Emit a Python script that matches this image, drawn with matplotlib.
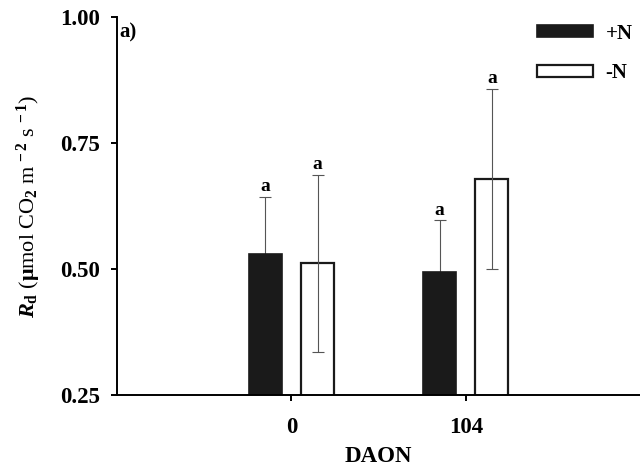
import matplotlib
matplotlib.use("Agg")
import matplotlib.pyplot as plt
import numpy as np

plt.rcParams['font.family'] = ['Liberation Serif', 'DejaVu Serif']
plt.rcParams['font.weight'] = 'bold'
plt.rcParams['mathtext.fontset'] = 'custom'
plt.rcParams['mathtext.rm'] = 'Liberation Serif:bold'
plt.rcParams['mathtext.it'] = 'Liberation Serif:italic:bold'
plt.rcParams['mathtext.bf'] = 'Liberation Serif:bold'

# dark respiration by sampling day, with and without nitrogen
days = ["0", "104"]
rd_plus = [0.530, 0.493]
err_plus = [0.113, 0.104]
rd_minus = [0.511, 0.679]
err_minus = [0.176, 0.179]
letters_plus = ["a", "a"]
letters_minus = ["a", "a"]

fig = plt.figure(figsize=(6.4, 4.74), dpi=100)
ax = fig.add_axes([0.183, 0.167, 0.817, 0.797])

x = np.arange(len(days))
off = 0.15
w = 0.19

ax.bar(x - off, rd_plus, w, color='#1a1a1a', edgecolor='#1a1a1a',
       linewidth=1.2, label='+N', zorder=2)
ax.bar(x + off, rd_minus, w, color='white', edgecolor='#1a1a1a',
       linewidth=1.6, label='-N', zorder=2)

# +N whiskers sit behind the dark bars so only the upper half shows
ax.errorbar(x - off, rd_plus, yerr=err_plus, fmt='none', ecolor='#555555',
            elinewidth=0.8, capsize=4, capthick=0.8, zorder=1)
ax.errorbar(x + off, rd_minus, yerr=err_minus, fmt='none', ecolor='#555555',
            elinewidth=0.8, capsize=4, capthick=0.8, zorder=3)

for xi, v, e, t in zip(x - off, rd_plus, err_plus, letters_plus):
    ax.text(xi, v + e + 0.003, t, ha='center', va='bottom', fontsize=14,
            fontweight='bold')
for xi, v, e, t in zip(x + off, rd_minus, err_minus, letters_minus):
    ax.text(xi, v + e + 0.003, t, ha='center', va='bottom', fontsize=14,
            fontweight='bold')

ax.set_ylim(0.25, 1.0)
ax.set_xlim(-1.0, 2.0)
ax.set_yticks([0.25, 0.50, 0.75, 1.00])
ax.set_yticklabels(["0.25", "0.50", "0.75", "1.00"])
ax.set_xticks(x)
ax.set_xticklabels(days)

for s in ['top', 'right']:
    ax.spines[s].set_visible(False)
for s in ['left', 'bottom']:
    ax.spines[s].set_linewidth(1.4)
ax.tick_params(axis='y', direction='out', length=4.5, width=1.4, labelsize=16.5, pad=8)
ax.tick_params(axis='x', direction='out', length=4, width=1.4, labelsize=16.5, pad=12)

ax.set_xlabel("DAON", fontsize=16.5, fontweight='bold', labelpad=6)
ax.set_ylabel(r"$\mathit{R}_{\mathrm{d}}$ ($\mathrm{\mu}$mol CO$_2$ m$^{\,-2}$ s$^{\,-1}$)",
              fontsize=16, labelpad=12)

ax.text(0.005, 0.985, "a)", transform=ax.transAxes, ha='left', va='top',
        fontsize=15, fontweight='bold')

leg = ax.legend(loc='upper right', bbox_to_anchor=(1.01, 1.016), frameon=False,
                fontsize=15, handlelength=2.7, handleheight=0.55,
                labelspacing=0.95, handletextpad=0.6, borderaxespad=0.2)
for t in leg.get_texts():
    t.set_fontweight('bold')

fig.savefig("out.png", dpi=100)
